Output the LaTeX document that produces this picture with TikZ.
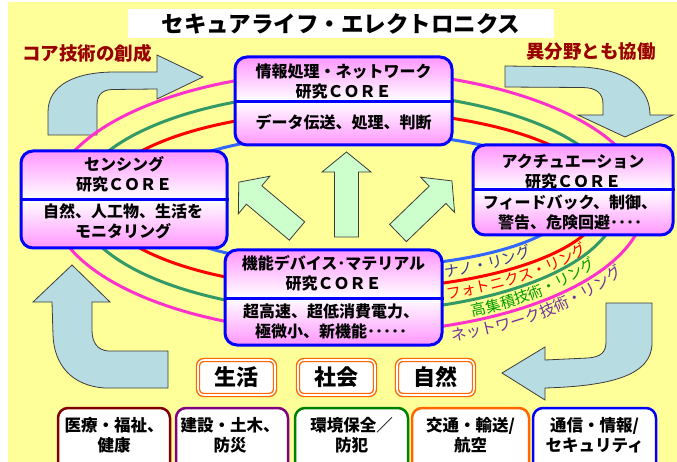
\documentclass[tikz,border=0pt]{standalone}
\usepackage{fontspec}
\newfontfamily\jp{Noto Sans CJK JP}
\usetikzlibrary{decorations.text}
\definecolor{bgyellow}{RGB}{255,255,153}
\definecolor{pinkc}{RGB}{255,150,255}
\definecolor{coreblue}{RGB}{0,0,255}
\definecolor{arrowblue}{RGB}{183,221,227}
\definecolor{arrowgreen}{RGB}{204,255,204}
\definecolor{outlinegray}{RGB}{60,60,60}
\definecolor{ringblue}{RGB}{51,102,255}
\definecolor{ringred}{RGB}{255,0,0}
\definecolor{ringgreen}{RGB}{51,153,102}
\definecolor{ringmag}{RGB}{255,51,204}
\definecolor{headred}{RGB}{153,0,0}
\definecolor{nanoblue}{RGB}{51,51,153}
\definecolor{labgreen}{RGB}{0,153,0}
\definecolor{netpurple}{RGB}{112,48,160}
\definecolor{catorange}{RGB}{255,102,0}
\definecolor{medred}{RGB}{128,0,0}
\definecolor{conpurple}{RGB}{128,0,128}
\definecolor{envgreen}{RGB}{0,128,0}
\tikzset{
 corebox/.style={draw=coreblue, line width=3pt, rounded corners=12pt, top color=pinkc, bottom color=pinkc, middle color=white, inner sep=0pt},
 coretext/.style={font=\jp\bfseries\fontsize{16}{20}\selectfont, align=center, inner sep=0pt},
 divline/.style={draw=coreblue, line width=3pt},
 ringline/.style={line width=3pt},
 bigarrow/.style={fill=arrowblue, draw=outlinegray, line width=0.8pt},
 garrow/.style={fill=arrowgreen, draw=outlinegray, line width=0.8pt},
 domainbox/.style={draw=catorange, double=white, double distance=1.6pt, line width=1.4pt, fill=white, rounded corners=6pt, minimum width=77pt, minimum height=35pt, inner sep=0pt, font=\jp\bfseries\fontsize{22}{24}\selectfont},
 fieldbox/.style={fill=white, line width=2.5pt, rounded corners=10pt, minimum height=80pt, inner sep=0pt},
 fieldtext/.style={font=\jp\bfseries\fontsize{16.5}{20}\selectfont, align=center, inner sep=0pt},
 headlabel/.style={font=\jp\bfseries\fontsize{18.5}{20}\selectfont, inner sep=0pt},
}
\newcommand\fatarrow[4]{\begin{scope}[shift={(#1,#2)},rotate=#3]
\draw[garrow] (0,-12) -- ({#4-20},-12) -- ({#4-20},-24.5) -- (#4,0) -- ({#4-20},24.5) -- ({#4-20},12) -- (0,12) -- cycle;
\end{scope}}
% ring label along an elliptical arc: cx, cy, A, B, start, end, colour, size, text
\newcommand\ringtext[9]{\path[decorate, decoration={text along path, text color=#7, text align=center, text={|\jp\fontsize{#8}{#8}\selectfont|#9}}] ({#1+#3*cos(#5)},{#2-#4*sin(#5)}) arc [start angle=#5, end angle=#6, x radius=#3pt, y radius=#4pt];}
\begin{document}
\begin{tikzpicture}[x=1pt,y=-1pt]
\clip (0,0) rectangle (677,462);
\fill[white] (0,0) rectangle (677,462);
\fill[bgyellow] (8,2) rectangle (677,462);
% title
\node[fill=white, minimum width=426pt, minimum height=29pt, inner sep=0pt, font=\jp\bfseries\fontsize{22.5}{24}\selectfont] (title) at (341,23.5) {セキュアライフ・エレクトロニクス};
% headings
\node[headlabel, text=headred] (corehead) at (87,53) {コア技術の創成};
\node[headlabel, text=headred] (collabhead) at (591,52) {異分野とも協働};
% big blue arrows
\draw[bigarrow] (48,135) -- (48,112) .. controls (48,85) and (75,72) .. (115,72) -- (157,72) -- (157,55) -- (203,77) -- (157,99) -- (157,89) -- (112,89.5) .. controls (101,90) and (97,96) .. (97,106) -- (97,135) -- cycle;
\draw[bigarrow] (505,66) -- (583,67) .. controls (630,70) and (650,90) .. (650,115) -- (673,115) -- (625,137) -- (578,115) -- (603,115) -- (603,104) .. controls (603,93) and (596,87.5) .. (582,87.5) -- (505,87) -- cycle;
\draw[bigarrow] (606,303) -- (652,303) -- (652,343) .. controls (652,375) and (612,386) .. (545,388) -- (545,400) -- (502,373) -- (545,347) -- (545,360) -- (588,358) .. controls (601,357) and (606,352) .. (606,342) -- cycle;
\draw[bigarrow] (72,265) -- (110,302) -- (92,302) -- (92,330) .. controls (92,342) and (97,350) .. (108,351) -- (168,351) -- (168,388) -- (105,388) .. controls (72,386) and (54,365) .. (53,335) -- (52,302) -- (33,302) -- cycle;
% rings
\draw[ringline, ringmag] (348,202) ellipse [x radius=297pt, y radius=131pt];
\draw[ringline, ringgreen] (348,202) ellipse [x radius=270pt, y radius=110pt];
\draw[ringline, ringred] (352,200) ellipse [x radius=252pt, y radius=89pt];
\draw[ringline, ringblue] (358,200) ellipse [x radius=215pt, y radius=67pt];
% ring labels
\ringtext{358}{200}{232}{84}{286.5}{326.5}{nanoblue}{15}{ナノ・リング}
\ringtext{352}{200}{269}{106}{288}{336}{ringred}{15}{フォトニクス・リング}
\ringtext{348}{202}{287}{127}{292}{336}{labgreen}{15}{高集積技術・リング}
\ringtext{348}{202}{314}{148}{287}{335}{netpurple}{15.5}{ネットワーク技術・リング}
% green arrows
\fatarrow{346.5}{237}{90}{85}
\fatarrow{297}{231}{140}{76}
\fatarrow{398}{233}{44}{75}
% core boxes
\node[corebox, minimum width=217pt, minimum height=88pt] (info) at (343.5,101) {};
\draw[divline] (info.west |- 0,102) -- (info.east |- 0,102);
\node[coretext] (infoa) at (343.5,81.5) {情報処理・ネットワーク\\研究ＣＯＲＥ};
\node[coretext] (infob) at (343.5,122.5) {データ伝送、処理、判断};
\node[corebox, minimum width=206pt, minimum height=97pt] (sens) at (124,199.5) {};
\draw[divline] (sens.west |- 0,200) -- (sens.east |- 0,200);
\node[coretext] (sensa) at (124,174) {センシング\\研究ＣＯＲＥ};
\node[coretext] (sensb) at (123,221.5) {自然、人工物、生活を\\モニタリング};
\node[corebox, minimum width=200pt, minimum height=90pt] (act) at (573,190) {};
\draw[divline] (act.west |- 0,190) -- (act.east |- 0,190);
\node[coretext] (acta) at (573,172) {アクチュエーション\\研究ＣＯＲＥ};
\node[coretext] (actb) at (570,212) {フィードバック、制御、\\警告、危険回避････};
\node[corebox, minimum width=217pt, minimum height=95pt] (dev) at (333.5,297.5) {};
\draw[divline] (dev.west |- 0,298) -- (dev.east |- 0,298);
\node[coretext] (deva) at (333.5,273) {機能デバイス･マテリアル\\研究ＣＯＲＥ};
\node[coretext] (devb) at (331,321.5) {超高速、超低消費電力、\\極微小、新機能･････};
% domain boxes
\node[domainbox] (life) at (236.5,377.5) {生活};
\node[domainbox] (society) at (336.5,377.5) {社会};
\node[domainbox] (nature) at (435.5,377.5) {自然};
% field boxes
\node[fieldbox, draw=medred, minimum width=112pt] (med) at (114,448) {};
\node[fieldtext] (medt) at (114,435) {医療・福祉、\\健康};
\node[fieldbox, draw=conpurple, minimum width=112pt] (con) at (232,448) {};
\node[fieldtext] (cont) at (230,435) {建設・土木、\\防災};
\node[fieldbox, draw=envgreen, minimum width=113pt] (env) at (351.5,448) {};
\node[fieldtext] (envt) at (351.5,435) {環境保全／\\防犯};
\node[fieldbox, draw=catorange, minimum width=117pt] (tra) at (470.5,448) {};
\node[fieldtext] (trat) at (470.5,435) {交通・輸送/\\航空};
\node[fieldbox, draw=coreblue, minimum width=123pt] (com) at (594.5,448) {};
\node[fieldtext] (comt) at (594.5,435) {通信・情報/\\セキュリティ};
\end{tikzpicture}
\end{document}
